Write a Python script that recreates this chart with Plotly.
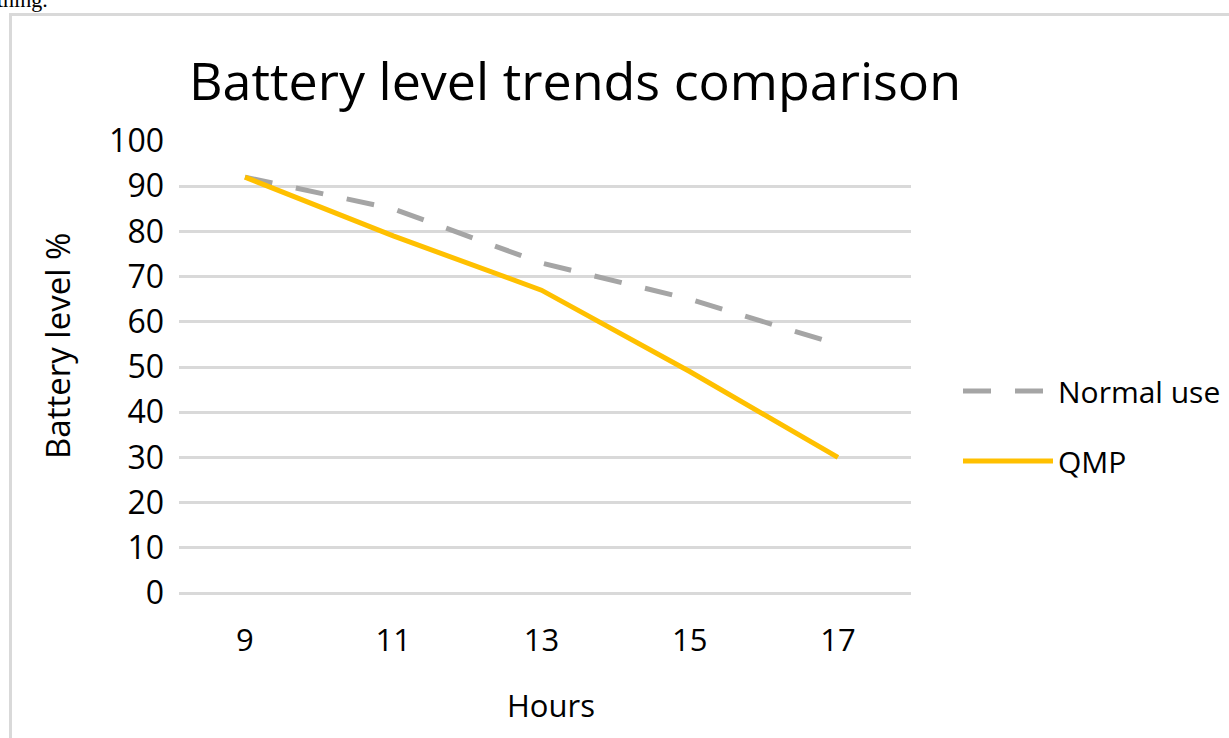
import plotly.graph_objects as go

hours = ["9", "11", "13", "15", "17"]
normal_use = [92, 85, 73, 65, 55]
qmp = [92, 79, 67, 49, 30]
y_ticks = [0, 10, 20, 30, 40, 50, 60, 70, 80, 90, 100]

W, H = 1229, 738
X0, X1 = 179, 911   # plot area left/right (page px)
Y1, Y0 = 141, 593   # plot area top/bottom (page px)
L, R, T, B = X0, W - X1, Y1, H - Y0
pw, ph = X1 - X0, Y0 - Y1

def px(x):
    return (x - X0) / pw

def py(y):
    return (Y0 - y) / ph

FONT = "Open Sans"
BLACK = "#000000"

fig = go.Figure()
fig.add_trace(go.Scatter(x=hours, y=normal_use, mode="lines", name="Normal use",
                         line=dict(color="#A5A5A5", width=5, dash="28px,24px"),
                         legendgroup="a"))
fig.add_trace(go.Scatter(x=hours, y=qmp, mode="lines", name="QMP",
                         line=dict(color="#FFC000", width=5),
                         legendgroup="b"))

fig.update_layout(
    width=W, height=H,
    margin=dict(l=L, r=R, t=T, b=B, autoexpand=False),
    paper_bgcolor="white", plot_bgcolor="white",
    font=dict(family=FONT, color=BLACK),
    title=dict(text="Battery level trends comparison", xref="container", x=575 / W,
               xanchor="center", yref="container", y=1 - 82 / H, yanchor="middle",
               font=dict(size=52, family=FONT, color=BLACK)),
    xaxis=dict(type="category", range=[-0.445, 4.493], showgrid=False, showline=False,
               zeroline=False, ticks="", tickfont=dict(size=31, color=BLACK),
               ticklabelstandoff=26),
    yaxis=dict(range=[0, 100], tickvals=y_ticks, showgrid=True, gridcolor="#D9D9D9", gridwidth=2.5,
               zeroline=True, zerolinecolor="#D9D9D9", zerolinewidth=2.5,
               showline=False, ticks="", tickfont=dict(size=32, color=BLACK),
               ticklabelstandoff=14),
    showlegend=True,
    legend=dict(x=px(958), y=py(426), xanchor="left", yanchor="middle",
                font=dict(size=30, color=BLACK), itemwidth=90,
                tracegroupgap=28, bgcolor="rgba(0,0,0,0)"),
    shapes=[dict(type="rect", xref="paper", yref="paper",
                 x0=px(10.5), x1=px(1260), y0=py(14.5), y1=py(780),
                 line=dict(color="#D9D9D9", width=3), layer="below")],
    annotations=[
        dict(text="thing.", xref="paper", yref="paper", x=px(50), y=py(14),
             xanchor="right", yanchor="bottom", showarrow=False,
             font=dict(family="Liberation Serif", size=22, color=BLACK)),
        dict(text="Battery level %", xref="paper", yref="paper", x=px(57), y=py(346),
             xanchor="center", yanchor="middle", textangle=-90, showarrow=False,
             font=dict(size=33, color=BLACK)),
        dict(text="Hours", xref="paper", yref="paper", x=px(551), y=py(705),
             xanchor="center", yanchor="middle", showarrow=False,
             font=dict(size=31, color=BLACK)),
    ],
)

fig.write_html("out.html", config={"displayModeBar": False},
               post_script="document.body.style.margin='0';")
